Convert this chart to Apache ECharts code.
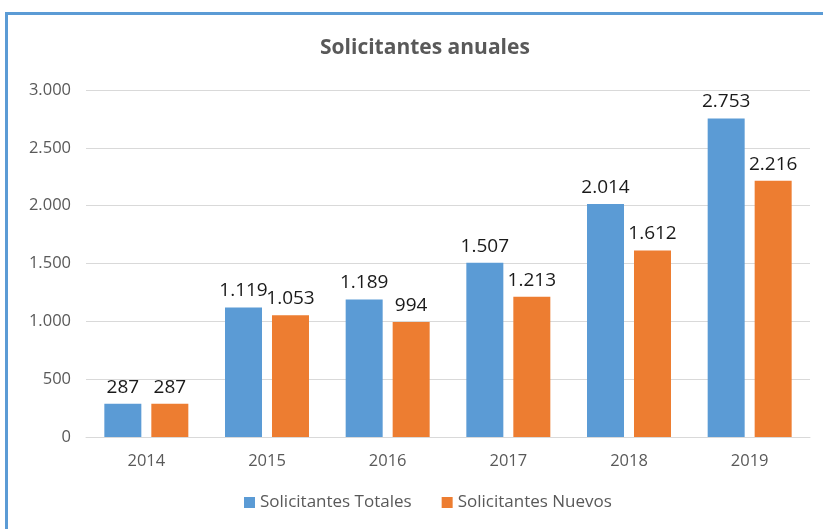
<!DOCTYPE html>
<html>
<head>
<meta charset="utf-8">
<script src="https://cdn.jsdelivr.net/npm/echarts@6/dist/echarts.min.js"></script>
<style>
  html, body { margin: 0; padding: 0; background: #fff; }
  #chart { position: absolute; left: 0; top: 0; width: 823px; height: 529px; }
  #frame {
    position: absolute; left: 5px; top: 12px; width: 830px; height: 540px;
    border-left: 3px solid #5b9bd5; border-top: 3px solid #5b9bd5;
    pointer-events: none;
  }
</style>
</head>
<body>
<div id="chart"></div>
<div id="frame"></div>
<script>
const years = ['2014', '2015', '2016', '2017', '2018', '2019']
const totales = [287, 1119, 1189, 1507, 2014, 2753]
const nuevos = [287, 1053, 994, 1213, 1612, 2216]
const seriesNames = ['Solicitantes Totales', 'Solicitantes Nuevos']

const font = '"Open Sans", "Liberation Sans", sans-serif'

function fmt(v) {
  return String(v).replace(/\B(?=(\d{3})+(?!\d))/g, '.')
}

const chart = echarts.init(document.getElementById('chart'))

function barSeries(name, data, color) {
  return {
    name,
    type: 'bar',
    data,
    barWidth: 37,
    barGap: '27%',
    itemStyle: { color },
    label: {
      show: true,
      position: 'top',
      distance: 7,
      color: '#1a1a1a',
      fontSize: 19,
      fontFamily: font,
      formatter: p => fmt(p.value)
    }
  }
}

chart.setOption({
  animation: false,
  title: {
    text: 'Solicitantes anuales',
    left: 315,
    top: 33,
    textStyle: { color: '#595959', fontSize: 21, fontWeight: 'bold', fontFamily: font }
  },
  legend: {
    bottom: 13,
    left: 239,
    itemWidth: 11,
    itemHeight: 11,
    itemGap: 30,
    icon: 'rect',
    textStyle: { color: '#595959', fontSize: 17, fontFamily: font },
    data: seriesNames
  },
  grid: { left: 86, right: 13, top: 90, bottom: 92 },
  xAxis: {
    type: 'category',
    data: years,
    axisTick: { show: false },
    axisLine: { lineStyle: { color: '#d9d9d9' } },
    axisLabel: { color: '#595959', fontSize: 16.5, fontFamily: font, margin: 16 }
  },
  yAxis: {
    type: 'value',
    min: 0,
    max: 3000,
    interval: 500,
    axisLine: { show: false },
    axisTick: { show: false },
    splitLine: { lineStyle: { color: '#d9d9d9' } },
    axisLabel: { color: '#595959', fontSize: 16.5, fontFamily: font, margin: 15, formatter: v => fmt(v) }
  },
  series: [
    barSeries(seriesNames[0], totales, '#5b9bd5'),
    barSeries(seriesNames[1], nuevos, '#ed7d31')
  ]
})
</script>
</body>
</html>
